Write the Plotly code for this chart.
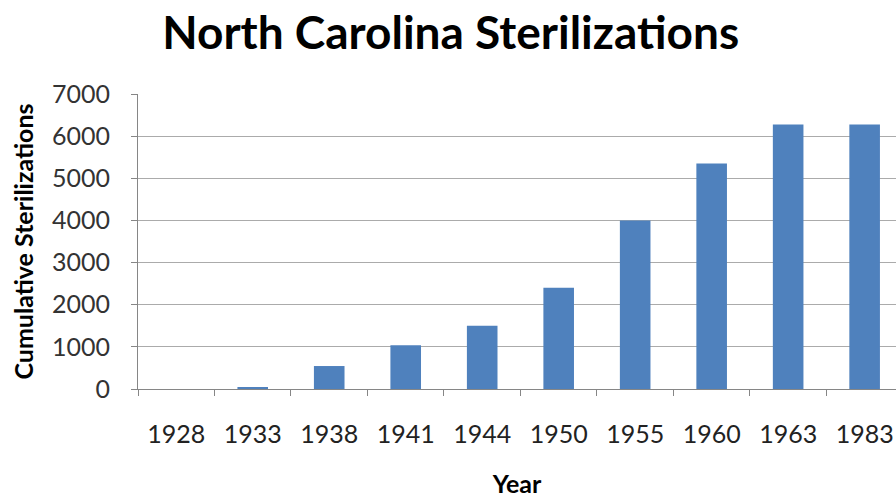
import plotly.graph_objects as go

years = ["1928", "1933", "1938", "1941", "1944", "1950", "1955", "1960", "1963", "1983"]
sterilizations = [0, 45, 545, 1040, 1500, 2400, 4000, 5350, 6275, 6275]
y_ticks = [0, 1000, 2000, 3000, 4000, 5000, 6000, 7000]

FONT = "Lato"

fig = go.Figure(
    go.Bar(
        x=years,
        y=sterilizations,
        marker=dict(color="#4F81BD", line=dict(width=0)),
    )
)

fig.update_layout(
    width=896,
    height=498,
    margin=dict(l=138, r=0, t=94, b=109, autoexpand=False),
    paper_bgcolor="white",
    plot_bgcolor="white",
    bargap=0.6,
    showlegend=False,
    title=dict(
        text="<b>North Carolina Sterilizations</b>",
        x=0.503,
        xanchor="center",
        y=0.934,
        yanchor="middle",
        font=dict(family=FONT, size=46, color="#000000"),
    ),
    annotations=[
        dict(
            text="<b>Cumulative Sterilizations</b>",
            xref="paper",
            yref="paper",
            x=-0.153,
            y=0.5,
            xanchor="center",
            yanchor="middle",
            textangle=-90,
            showarrow=False,
            font=dict(family=FONT, size=25, color="#000000"),
        )
    ],
)

fig.update_xaxes(
    type="category",
    range=[-0.5, 9.41],
    automargin=False,
    tickson="boundaries",
    ticks="outside",
    ticklen=6,
    tickcolor="#868686",
    showline=True,
    linecolor="#868686",
    linewidth=1,
    showgrid=False,
    ticklabelstandoff=23,
    tickfont=dict(family=FONT, size=25, color="#222222"),
    title=dict(text="<b>Year</b>", standoff=28, font=dict(family=FONT, size=25, color="#000000")),
)

fig.update_yaxes(
    range=[0, 7000],
    automargin=False,
    tickvals=y_ticks,
    ticks="outside",
    ticklen=6,
    tickcolor="#868686",
    showline=True,
    linecolor="#868686",
    linewidth=1,
    showgrid=True,
    gridcolor="#ABABAB",
    gridwidth=1.4,
    zeroline=False,
    ticklabelstandoff=16,
    tickfont=dict(family=FONT, size=25, color="#333333"),
)

# remove the page's default body margin so the figure fills the whole window
fig.write_html(
    "out.html",
    config={"displayModeBar": False},
    post_script="document.body.style.margin='0';document.body.style.overflow='hidden';",
)
